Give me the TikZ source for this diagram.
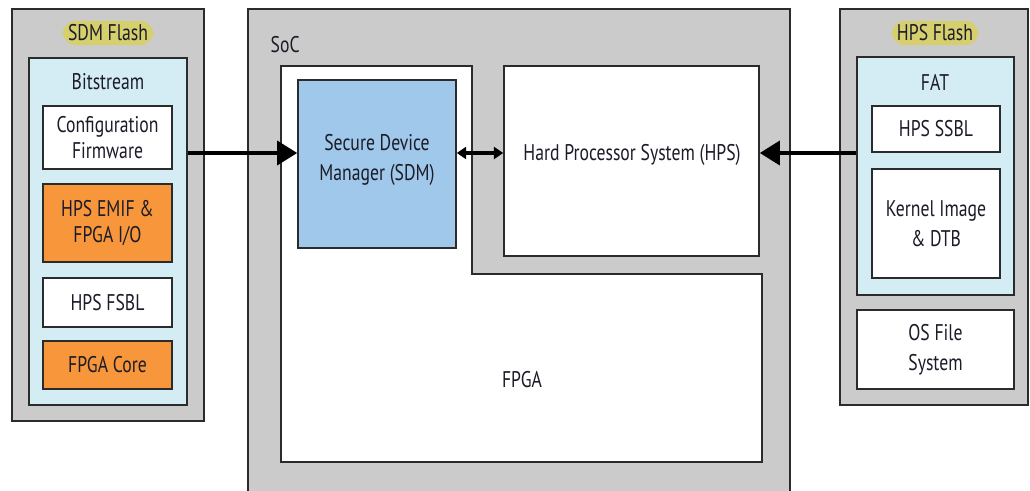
\documentclass[tikz,border=0pt]{standalone}
\usepackage{fontspec}
\setmainfont{PT Sans}[FakeStretch=0.78]
\usetikzlibrary{arrows.meta,fit,positioning}

\definecolor{shellgray}{HTML}{CBCBCB}
\definecolor{partblue}{HTML}{D4ECF3}
\definecolor{sdmblue}{HTML}{9FC8EA}
\definecolor{imgorange}{HTML}{F7963A}
\definecolor{tagolive}{HTML}{D6CF6E}
\definecolor{edgegray}{HTML}{2B2B2B}
\definecolor{inkblack}{HTML}{1C1C28}

\tikzset{
  boxline/.style={draw=edgegray, line width=1.2pt, inner sep=0pt},
  shellbox/.style={boxline, fill=shellgray},
  partbox/.style={boxline, fill=partblue},
  plainbox/.style={boxline, fill=white, align=center},
  imgbox/.style={boxline, fill=imgorange, align=center},
  tagpill/.style={fill=tagolive, rounded corners=10pt, inner xsep=4pt, inner ysep=3pt},
  tightlines/.style={align=center, font=\fontsize{17pt}{19pt}\selectfont},
  widelines/.style={align=center, font=\fontsize{17pt}{22.5pt}\selectfont},
  busline/.style={line width=2.6pt, -{Triangle[length=15pt,width=18pt]}},
  linkline/.style={line width=2.4pt, {Triangle[length=7pt,width=9pt]}-{Triangle[length=7pt,width=9pt]}}
}

\begin{document}
\begin{tikzpicture}[x=0.75pt,y=-0.75pt, font=\fontsize{17pt}{19pt}\selectfont, text=inkblack]
 \useasboundingbox (0,0) rectangle (1030,491);
 \coordinate (bus) at (0,153);

    % SDM flash, left
    \node[shellbox, fit={(12,9) (204,421)}] (sdmflash) {};
    \node[tagpill] (sdmtag) at (108,33) {SDM Flash};
    \node[partbox, fit={(29,58) (187,405)}] (bitstream) {};
    \node (bitlabel) at (108,82) {Bitstream};
    \node[plainbox, fit={(43,106) (172,169)}] (cfgfw) {};
    \node[tightlines] at (cfgfw) {Configuration\\Firmware};
    \node[imgbox, fit={(43,184) (172,262)}] (emif) {};
    \node[tightlines] at (emif) {HPS EMIF \&\\FPGA I/O};
    \node[plainbox, fit={(43,278) (172,327)}] (fsbl) {};
    \node at (fsbl) {HPS FSBL};
    \node[imgbox, fit={(43,341) (172,389)}] (fpgacore) {};
    \node at (fpgacore) {FPGA Core};

    % SoC
    \node[shellbox, fit={(248,9) (790,510)}] (soc) {};
    \node[anchor=west] (soclabel) at (266,45) {SoC};
    \draw[edgegray, line width=1.2pt, fill=white] (281,66) -- (472,66) -- (472,274) -- (762,274) -- (762,462) -- (281,462) -- cycle;
    \node (fpga) at (522,380) {FPGA};
    \node[boxline, fill=sdmblue, fit={(298,80) (456,248)}] (sdm) {};
    \node[widelines] at (sdm.center |- 0,160) {Secure Device\\Manager (SDM)};
    \node[plainbox, fit={(504,66) (759,256)}] (hps) {};
    \node at (632,155) {Hard Processor System (HPS)};

    % HPS flash, right
    \node[shellbox, fit={(840,9) (1028,405)}] (hpsflash) {};
    \node[tagpill] (hpstag) at (935,33) {HPS Flash};
    \node[partbox, fit={(857,57) (1014,295)}] (fat) {};
    \node (fatlabel) at (935,82) {FAT};
    \node[plainbox, fit={(872,106) (1000,152)}] (ssbl) {};
    \node at (ssbl) {HPS SSBL};
    \node[plainbox, fit={(872,169) (1000,278)}] (kernel) {};
    \node[widelines] at (kernel) {Kernel Image\\\& DTB};
    \node[plainbox, fit={(857,310) (1014,389)}] (osfs) {};
    \node[widelines] at (osfs) {OS File\\System};

    % Links
    \draw[busline] (bitstream.east |- bus) -- (sdm.west |- bus);
    \draw[linkline] (sdm.east |- bus) -- (hps.west |- bus);
    \draw[busline] (fat.west |- bus) -- (hps.east |- bus);
\end{tikzpicture}
\end{document}
